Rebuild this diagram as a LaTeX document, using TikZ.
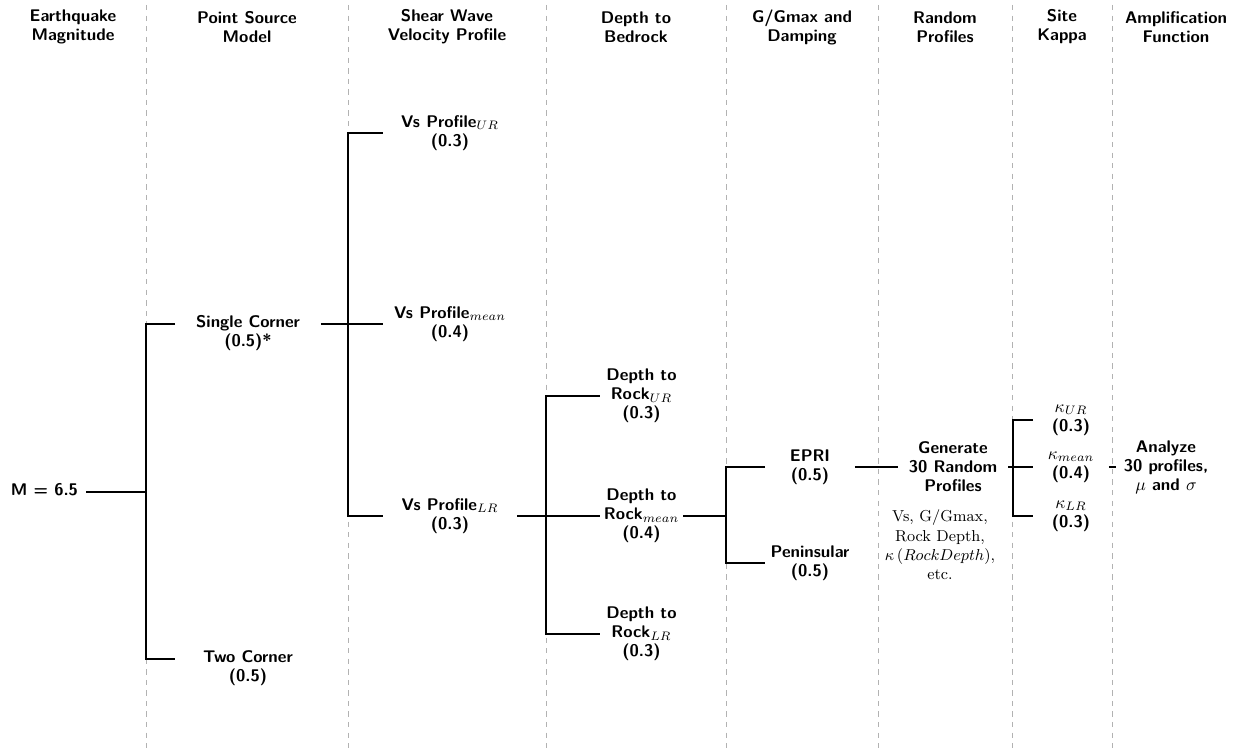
\documentclass[tikz,border=0pt]{standalone}
\usepackage{amsmath}
\usepackage{amssymb}
\usepackage{tikz}
\usetikzlibrary{calc}

\newcommand{\treefont}{\fontsize{9.6}{10.8}\selectfont}

\begin{document}
\begin{tikzpicture}[
        hdr/.style={font=\sffamily\bfseries\treefont, align=center},
        opt/.style={font=\sffamily\bfseries\treefont, align=center, inner sep=0pt},
        branch/.style={line width=1.6pt},
        sep/.style={dashed, gray!60, line width=0.4pt}]
            \useasboundingbox (0,0) rectangle (24.78,15);

            % column separators
            \foreach \x in {2.92, 6.96, 10.92, 14.52, 17.56, 20.24, 22.24}
                \draw[sep] (\x,14.9) -- (\x,0.04);

            % headers
            \node[hdr] (hMag) at (1.46,14.46) {Earthquake\\Magnitude};
            \node[hdr] (hSrc) at (4.94,14.46) {Point Source\\Model};
            \node[hdr] (hVs) at (8.94,14.46) {Shear Wave\\Velocity Profile};
            \node[hdr] (hDep) at (12.72,14.46) {Depth to\\Bedrock};
            \node[hdr] (hG) at (16.04,14.46) {G/Gmax and\\Damping};
            \node[hdr] (hRnd) at (18.9,14.46) {Random\\Profiles};
            \node[hdr] (hK) at (21.24,14.46) {Site\\Kappa};
            \node[hdr] (hAmp) at (23.52,14.46) {Amplification\\Function};

            % branches
            \node[opt, anchor=mid, inner xsep=4.5pt] (mag) at (0.89,5.16) {M = 6.5};
            \node[opt, anchor=mid, minimum width=2.9cm] (sc) at (4.96,8.52)
                {\begin{tabular}[t]{@{}c@{}}Single Corner\\(0.5)*\end{tabular}};
            \node[opt, anchor=mid, minimum width=2.9cm] (tc) at (4.96,1.82)
                {\begin{tabular}[t]{@{}c@{}}Two Corner\\(0.5)\end{tabular}};

            \node[opt, minimum width=2.68cm] (vsu) at (9.0,12.34) {Vs Profile$_{UR}$\\(0.3)};
            \node[opt, minimum width=2.68cm] (vsm) at (9.0,8.52) {Vs Profile$_{mean}$\\(0.4)};
            \node[opt, minimum width=2.68cm] (vsl) at (9.0,4.68) {Vs Profile$_{LR}$\\(0.3)};

            \node[opt, minimum width=1.66cm] (du) at (12.83,7.08) {Depth to\\Rock$_{UR}$\\(0.3)};
            \node[opt, minimum width=1.66cm] (dm) at (12.83,4.68) {Depth to\\Rock$_{mean}$\\(0.4)};
            \node[opt, minimum width=1.66cm] (dl) at (12.83,2.32) {Depth to\\Rock$_{LR}$\\(0.3)};

            \node[opt, minimum width=1.78cm] (epri) at (16.2,5.66) {EPRI\\(0.5)};
            \node[opt, minimum width=1.78cm] (pen) at (16.2,3.74) {Peninsular\\(0.5)};

            \node[opt, minimum width=2.2cm] (gen) at (19.06,5.66) {Generate\\30 Random\\Profiles};
            \node[font=\small, align=center] (notes) at (18.8,4.1) {Vs, G/Gmax,\\Rock Depth,\\$\kappa\,(RockDepth)$,\\etc.};

            \node[opt, minimum width=1.5cm] (ku) at (21.42,6.6) {$\kappa_{UR}$\\(0.3)};
            \node[opt, minimum width=1.5cm] (km) at (21.42,5.66) {$\kappa_{mean}$\\(0.4)};
            \node[opt, minimum width=1.5cm] (kl) at (21.42,4.68) {$\kappa_{LR}$\\(0.3)};

            \node[opt, inner xsep=4.5pt] (an) at (23.32,5.66) {Analyze\\30 profiles,\\$\mu$ and $\sigma$};

            % junctions
            \coordinate (jA) at (2.92,5.16);
            \coordinate (jB) at (6.96,8.52);
            \coordinate (jC) at (10.92,4.68);
            \coordinate (jD) at (14.52,4.68);
            \coordinate (jE) at (20.26,5.66);

            \draw[branch] (mag.mid east) -- (jA);
            \draw[branch] (sc.mid west) -| (jA) |- (tc.mid west);

            \draw[branch] (sc.mid east) -- (vsm.west);
            \draw[branch] (vsu.west) -| (jB) |- (vsl.west);

            \draw[branch] (vsl.east) -- (dm.west);
            \draw[branch] (du.west) -| (jC) |- (dl.west);

            \draw[branch] (dm.east) -- (jD);
            \draw[branch] (epri.west) -| (jD) |- (pen.west);

            \draw[branch] (epri.east) -- (gen.west);

            \draw[branch] (gen.east) -- (km.west);
            \draw[branch] (ku.west) -| (jE) |- (kl.west);

            \draw[branch] (km.east) -- (an.west);
        \end{tikzpicture}
\end{document}
